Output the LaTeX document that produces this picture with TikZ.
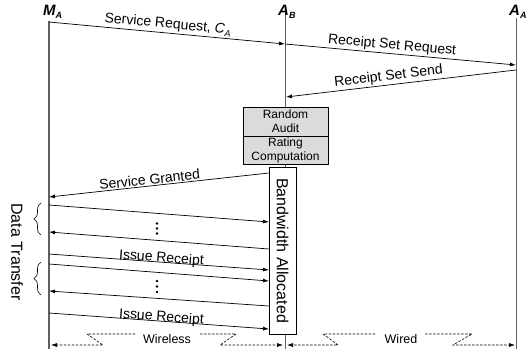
\documentclass[tikz,border=0pt]{standalone}
\usepackage{fontspec}
\setmainfont{Liberation Sans}
\usetikzlibrary{arrows.meta,decorations.pathreplacing}
\newcommand{\lowsub}[1]{\raisebox{-3pt}{\fontsize{9}{10}\selectfont #1}}
\begin{document}
\begin{tikzpicture}[x=1pt,y=-1pt,
  msg/.style={draw=black, line width=0.7pt, -{Latex[length=6pt,width=4pt]}},
  life/.style={draw=gray!75!black, line width=0.9pt},
  lbl/.style={font=\fontsize{14}{16}\selectfont, inner sep=1.5pt},
  onlbl/.style={font=\fontsize{14}{16}\selectfont, inner sep=0pt, anchor=base},
  head/.style={font=\fontsize{15}{17}\selectfont\bfseries\itshape, inner sep=0pt, anchor=base west},
  procbox/.style={draw=black, fill=gray!28, line width=0.6pt, minimum width=85pt,
    minimum height=28.5pt, align=center, font=\fontsize{12}{14}\selectfont, inner sep=0pt, anchor=north},
  span/.style={draw=black, line width=0.6pt, dash pattern=on 2.5pt off 1.5pt},
  spanend/.style={span, -{Latex[length=6pt,width=4pt]}},
  dotmark/.style={circle, fill=black, inner sep=0pt, minimum size=2.8pt},
  bracemark/.style={draw=black, line width=0.6pt, decorate, decoration={brace, amplitude=7pt}}
]
\useasboundingbox (0,0) rectangle (529,356);

% lifelines
\coordinate (ma-top) at (49,21);  \coordinate (ma-bot) at (49,349);
\coordinate (ab-top) at (285,12); \coordinate (ab-bot) at (285,349);
\coordinate (aa-top) at (516,18); \coordinate (aa-bot) at (516,349);
\draw[life, line width=1.3pt] (ma-top) -- (ma-bot);
\draw[life] (ab-top) -- (ab-bot);
\draw[life] (aa-top) -- (aa-bot);

% lifeline headings
\node[head] (hma) at (43,15) {M\lowsub{A}};
\node[head] (hab) at (278,15) {A\lowsub{B}};
\node[head] (haa) at (509,15) {A\lowsub{A}};

% message end points
\coordinate (ma-s1) at (49,22);
\coordinate (ab-r1) at (285,44);
\coordinate (aa-r2) at (516,65);
\coordinate (aa-s3) at (516,70);
\coordinate (ab-r3) at (286,97);

\draw[msg] (ma-s1) -- node[lbl, sloped, above, pos=0.5] {Service Request, \textit{C}\lowsub{\textit{A}}} (ab-r1);
\draw[msg] (ab-r1) -- node[lbl, sloped, above, pos=0.46] {Receipt Set Request} (aa-r2);
\draw[msg] (aa-s3) -- node[lbl, sloped, above, pos=0.55] {Receipt Set Send} (ab-r3);

% processing at A_B
\node[procbox] (audit) at (285.5,107) {Random\\Audit};
\node[procbox] (rating) at (285.5,135.5) {Rating\\Computation};

% bandwidth allocation
\node[draw=black, fill=white, line width=0.6pt, minimum width=27pt, minimum height=167pt, inner sep=0pt]
  (bw) at (282.5,250.5) {};
\node[rotate=-90, font=\fontsize{16}{18}\selectfont, inner sep=0pt] (bwtext) at (bw.center) {Bandwidth Allocated};

% points on M_A and on the bandwidth box
\coordinate (bw-g)  at (269,173); \coordinate (ma-g)  at (49,197);
\coordinate (ma-d1) at (49,205);  \coordinate (bw-d1) at (269,222);
\coordinate (bw-d2) at (269,249); \coordinate (ma-d2) at (49,232);
\coordinate (ma-i1) at (49,254);  \coordinate (bw-i1) at (269,270);
\coordinate (ma-d3) at (49,264);  \coordinate (bw-d3) at (269,281);
\coordinate (bw-d4) at (269,306); \coordinate (ma-d4) at (49,291);
\coordinate (ma-i2) at (49,313);  \coordinate (bw-i2) at (269,329);

\draw[msg] (bw-g) -- node[lbl, sloped, above, pos=0.54, inner sep=1pt] {Service Granted} (ma-g);
\draw[msg] (ma-d1) -- (bw-d1);
\draw[msg] (bw-d2) -- (ma-d2);
\draw[msg] (ma-i1) -- node[onlbl, sloped, pos=0.51] {Issue Receipt} (bw-i1);
\draw[msg] (ma-d3) -- (bw-d3);
\draw[msg] (bw-d4) -- (ma-d4);
\draw[msg] (ma-i2) -- node[onlbl, sloped, pos=0.51] {Issue Receipt} (bw-i2);

% vertical ellipses
\foreach \y in {223.5,228.5,233.5} \fill (157,\y) circle[radius=1.4pt];
\foreach \y in {281,286.5,292} \fill (157,\y) circle[radius=1.4pt];

% braces and side label
\draw[bracemark] (41,235) -- (41,203);
\draw[bracemark] (41,295) -- (41,262);
\node[rotate=-90, font=\fontsize{16}{18}\selectfont, inner sep=0pt] (dt) at (17,252) {Data Transfer};

% wireless / wired spans
\node[font=\fontsize{12.5}{14}\selectfont, inner sep=0pt] (wl) at (167,339) {Wireless};
\node[font=\fontsize{12.5}{14}\selectfont, inner sep=0pt] (wd) at (401,339) {Wired};
\draw[spanend] (135,334) -- (87,334) -- (103,345) -- (51,345);
\draw[spanend] (200,334) -- (236,334) -- (220,345) -- (283,345);
\draw[spanend] (375,334) -- (323,334) -- (338,345) -- (287,345);
\draw[spanend] (425,334) -- (472,334) -- (453,345) -- (515,345);
\end{tikzpicture}
\end{document}
